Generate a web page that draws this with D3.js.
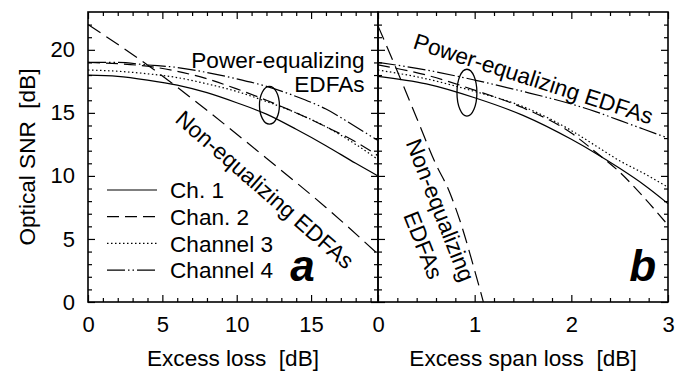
<!DOCTYPE html>
<html>
<head>
<meta charset="utf-8">
<script src="https://cdn.jsdelivr.net/npm/d3@7"></script>
<style>
body { margin: 0; background: #fff; }
svg { display: block; font-family: 'Liberation Sans', Arial, sans-serif; }
.axis path { display: none; }
.axis line { stroke: #000; stroke-width: 1.2; }
.axis text { font-size: 22px; fill: #000; font-family: 'Liberation Sans', Arial, sans-serif; }
.frame { fill: none; stroke: #000; stroke-width: 1.6; }
.curve { fill: none; stroke: #000; stroke-width: 1.2; }
.label { font-size: 22.6px; fill: #000; white-space: pre; }
</style>
</head>
<body>
<svg></svg>
<script>
// panel a: excess loss [dB]
var lossA = [0, 2, 4, 6, 8, 10, 12, 14, 16, 18, 19.5];
var ch1A = [18.0, 17.9, 17.6, 17.2, 16.6, 15.8, 14.9, 13.7, 12.4, 11.0, 10.0];
var ch2A = [19.0, 18.9, 18.7, 18.3, 17.7, 16.9, 16.0, 15.0, 13.9, 12.7, 11.6];
var ch3A = [18.4, 18.3, 18.1, 17.8, 17.3, 16.7, 15.9, 15.0, 13.9, 12.5, 11.3];
var ch4A = [19.0, 19.0, 18.8, 18.6, 18.2, 17.7, 17.1, 16.3, 15.3, 13.9, 12.8];
var nonEqLossA = [0, 4, 8, 12, 16, 19.5];
var nonEqA = [22.0, 18.8, 15.2, 11.4, 7.5, 3.8];

// panel b: excess span loss [dB]
var lossB = [0, 0.5, 1, 1.5, 2, 2.25, 2.5, 2.75, 3];
var ch1B = [17.9, 17.3, 16.2, 14.8, 12.9, 11.8, 10.6, 9.3, 7.8];
var ch2B = [18.8, 18.0, 16.8, 15.4, 13.4, 11.9, 10.3, 8.3, 6.1];
var ch3B = [18.4, 17.7, 16.7, 15.5, 13.6, 12.4, 11.2, 10.2, 9.1];
var ch4B = [19.0, 18.4, 17.6, 16.7, 15.7, 15.1, 14.4, 13.7, 13.0];
var nonEqLossB = [0, 0.2, 0.4, 0.6, 0.73, 0.85, 1.0, 1.09];
var nonEqB = [21.9, 18.3, 14.6, 10.9, 8.9, 6.4, 2.5, 0];

var channels = ['Ch. 1', 'Chan. 2', 'Channel 3', 'Channel 4'];
var ticksA = [0, 5, 10, 15];
var ticksB = [0, 1, 2, 3];
var ticksY = [0, 5, 10, 15, 20];

var dashes = [null, '12,6', '1.5,2.5', '18,3,1.5,3,1.5,3'];

var width = 679;
var height = 371;
var margin = {top: 12, left: 88, bottom: 69};
var panelW = 290;

var svg = d3.select('svg')
  .attr('width', width)
  .attr('height', height);

var y = d3.scaleLinear()
  .domain([0, 23])
  .range([height - margin.bottom, margin.top]);
var xA = d3.scaleLinear()
  .domain([0, 19.5])
  .range([margin.left, margin.left + panelW]);
var xB = d3.scaleLinear()
  .domain([0, 3])
  .range([margin.left + panelW, margin.left + 2 * panelW]);

function notIn(list) {
  return function(v) { return list.indexOf(v) < 0; };
}

var minorY = d3.range(0, 23).filter(notIn(ticksY));
var minorA = d3.range(0, 20).filter(notIn(ticksA));
var minorB = d3.range(1, 15).filter(function(i) { return i % 5; })
  .map(function(i) { return i / 5; });

function drawAxes(x, majors, minors, leftLabels) {
  var x0 = x.range()[0];
  var x1 = x.range()[1];
  var yb = y.range()[0];
  var yt = y.range()[1];

  svg.append('g').attr('class', 'axis')
    .attr('transform', 'translate(0,' + yb + ')')
    .call(d3.axisBottom(x).tickValues(majors).tickSize(-7).tickPadding(14)
      .tickFormat(d3.format('d')));
  svg.append('g').attr('class', 'axis')
    .attr('transform', 'translate(0,' + yb + ')')
    .call(d3.axisBottom(x).tickValues(minors).tickSize(-4).tickFormat(''));
  svg.append('g').attr('class', 'axis')
    .attr('transform', 'translate(0,' + yt + ')')
    .call(d3.axisTop(x).tickValues(majors).tickSize(-7).tickFormat(''));
  svg.append('g').attr('class', 'axis')
    .attr('transform', 'translate(0,' + yt + ')')
    .call(d3.axisTop(x).tickValues(minors).tickSize(-4).tickFormat(''));

  var left = d3.axisLeft(y).tickValues(ticksY).tickSize(-7).tickPadding(13);
  if (!leftLabels) left.tickFormat('');
  svg.append('g').attr('class', 'axis')
    .attr('transform', 'translate(' + x0 + ',0)')
    .call(left);
  svg.append('g').attr('class', 'axis')
    .attr('transform', 'translate(' + x0 + ',0)')
    .call(d3.axisLeft(y).tickValues(minorY).tickSize(-4).tickFormat(''));
  svg.append('g').attr('class', 'axis')
    .attr('transform', 'translate(' + x1 + ',0)')
    .call(d3.axisRight(y).tickValues(ticksY).tickSize(-7).tickFormat(''));
  svg.append('g').attr('class', 'axis')
    .attr('transform', 'translate(' + x1 + ',0)')
    .call(d3.axisRight(y).tickValues(minorY).tickSize(-4).tickFormat(''));

  svg.append('rect')
    .attr('class', 'frame')
    .attr('x', x0)
    .attr('y', yt)
    .attr('width', x1 - x0)
    .attr('height', yb - yt);
}

function drawCurve(x, xs, ys, dash) {
  var line = d3.line()
    .x(function(d, i) { return x(xs[i]); })
    .y(function(d) { return y(d); })
    .curve(d3.curveMonotoneX);
  svg.append('path')
    .datum(ys)
    .attr('class', 'curve')
    .attr('stroke-dasharray', dash)
    .attr('d', line);
}

function drawRing(x, cx, cy, rx, ry) {
  svg.append('ellipse')
    .attr('cx', x(cx))
    .attr('cy', y(cy))
    .attr('rx', x(cx + rx) - x(cx))
    .attr('ry', y(cy - ry) - y(cy))
    .attr('fill', 'none')
    .attr('stroke', '#000')
    .attr('stroke-width', 1.3);
}

function label(text, px, py, angle, anchor) {
  svg.append('text')
    .attr('class', 'label')
    .attr('text-anchor', anchor || 'start')
    .attr('transform', 'translate(' + px + ',' + py + ') rotate(' + (angle || 0) + ')')
    .text(text);
}

drawAxes(xA, ticksA, minorA, true);
drawAxes(xB, ticksB, minorB, false);

[ch1A, ch2A, ch3A, ch4A].forEach(function(s, i) {
  drawCurve(xA, lossA, s, dashes[i]);
});
drawCurve(xA, nonEqLossA, nonEqA, '15,7');

[ch1B, ch2B, ch3B, ch4B].forEach(function(s, i) {
  drawCurve(xB, lossB, s, dashes[i]);
});
drawCurve(xB, nonEqLossB, nonEqB, '15,7');

drawRing(xA, 12.2, 15.6, 0.67, 1.5);
drawRing(xB, 0.92, 16.6, 0.103, 1.86);

// legend
channels.forEach(function(name, i) {
  var ly = 190 + i * 26.7;
  svg.append('line')
    .attr('x1', 107).attr('x2', 157)
    .attr('y1', ly).attr('y2', ly)
    .attr('stroke', '#000')
    .attr('stroke-width', 1.2)
    .attr('stroke-dasharray', dashes[i]);
  svg.append('text')
    .attr('class', 'label')
    .attr('x', 170)
    .attr('y', ly)
    .attr('dy', '0.36em')
    .text(name);
});

// annotations
label('Power-equalizing', xA(18.6), y(18.56), 0, 'end');
label('EDFAs', xA(18.6), y(16.65), 0, 'end');
label('Non-equalizing EDFAs', xA(5.78), y(14.35), 41);
label('Power-equalizing EDFAs', xB(0.352), y(20.14), 17.8);
label('Non-equalizing', xB(0.569), y(7.06), 68.5, 'middle');
label('EDFAs', xB(0.393), y(4.28), 68.5, 'middle');

svg.append('text')
  .attr('x', xA(13.6)).attr('y', 281)
  .style('font', 'italic bold 44px "Liberation Sans", Arial, sans-serif')
  .text('a');
svg.append('text')
  .attr('x', xB(2.6)).attr('y', 281)
  .style('font', 'italic bold 44px "Liberation Sans", Arial, sans-serif')
  .text('b');

// axis titles
label('Excess loss  [dB]', (xA.range()[0] + xA.range()[1]) / 2, 366, 0, 'middle');
label('Excess span loss  [dB]', (xB.range()[0] + xB.range()[1]) / 2, 366, 0, 'middle');
label('Optical SNR  [dB]', 35, (y.range()[0] + y.range()[1]) / 2, -90, 'middle');
</script>
</body>
</html>
